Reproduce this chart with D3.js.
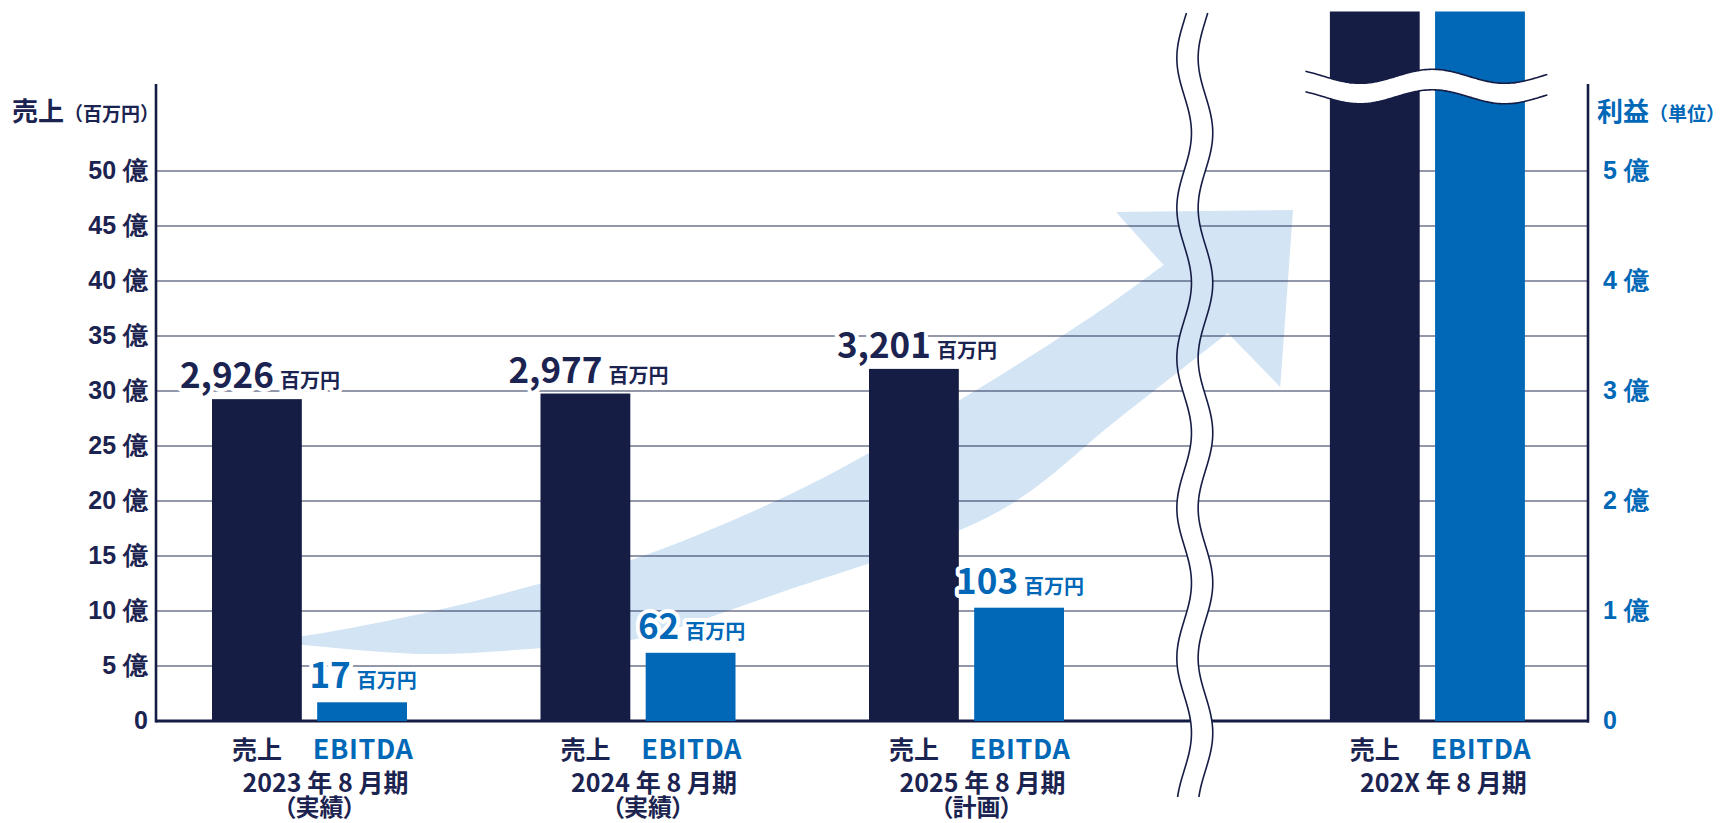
<!DOCTYPE html>
<html lang="ja">
<head>
<meta charset="utf-8">
<script src="https://cdn.jsdelivr.net/npm/d3@7"></script>
<style>
  html, body { margin: 0; padding: 0; background: #fff; }
  svg { display: block; font-family: "Noto Sans CJK JP", "Noto Sans", sans-serif; }
  .val { paint-order: stroke; stroke: #fff; stroke-width: 8px; stroke-linejoin: round; }
</style>
</head>
<body>
<svg id="chart" width="1725" height="823"></svg>
<script>
// Fiscal periods (August year-end)
const periods = ["2023 年 8 月期", "2024 年 8 月期", "2025 年 8 月期", "202X 年 8 月期"];
const periodNotes = ["（実績）", "（実績）", "（計画）", ""];
// Horizontal slot of each period; the 202X target sits beyond the axis break
const periodSlots = [0, 1, 2, 3.403];
const breakSlot = 2.695;

// Sales and EBITDA, millions of yen (202X target runs off the top of the scale)
const sales = [2926, 2977, 3201, 6450];
const ebitda = [17, 62, 103, 645];
const showValue = [true, true, true, false];

// Axis ticks, millions of yen
const salesTicks = [0, 500, 1000, 1500, 2000, 2500, 3000, 3500, 4000, 4500, 5000];
const profitTicks = [0, 100, 200, 300, 400, 500];

// Growth arrow outline in chart units (slot, millions of yen on the sales scale)
const arrowUpper = [[-0.18, 736], [-0.02, 773], [0.39, 1009], [0.71, 1255], [0.98, 1464],
                    [1.49, 2100], [1.98, 2918], [2.41, 3736], [2.60, 4145]];
const arrowHead  = [[2.455, 4627], [2.994, 4645], [2.955, 3036], [2.795, 3527]];
const arrowLower = [[2.795, 3527], [2.458, 2736], [2.10, 1909], [1.43, 1164], [0.98, 736],
                    [0.71, 664], [0.36, 609], [-0.02, 691], [-0.18, 736]];

const NAVY = "#151d45", TEXT = "#1b2350", BLUE = "#0068b7", ARROW = "#d3e4f4";

const svg = d3.select("#chart");
const plot = { left: 156, right: 1588, top: 84, bottom: 721 };

const ySales = d3.scaleLinear().domain([0, 5000]).range([plot.bottom, 171]);
const yProfit = d3.scaleLinear().domain([0, 500]).range([plot.bottom, 171]);
const xSlot = d3.scaleLinear().domain([0, 1]).range([309.5, 638]);

// pair of bars inside each period
function inner(i) {
  const c = xSlot(periodSlots[i]);
  return d3.scaleBand().domain(["sales", "ebitda"]).range([c - 97.5, c + 97.5])
    .paddingInner(0.146).paddingOuter(0);
}

// ---- vertical axis-break band
const bx = xSlot(breakSlot);
const bandHalf = 10.65, amp = 7.3, period = 150;
const waveY = d3.range(13, 799, 2);
const leftWave = waveY.map(y => [bx - bandHalf + amp * Math.cos(2 * Math.PI * (y - 283) / period), y]);
const rightWave = waveY.map(y => [bx + bandHalf + amp * Math.cos(2 * Math.PI * (y - 283) / period), y]);
const lineGen = d3.line().curve(d3.curveCatmullRom);

const defs = svg.append("defs");
const mask = defs.append("mask").attr("id", "breakMask").attr("maskUnits", "userSpaceOnUse")
  .attr("x", 0).attr("y", 0).attr("width", 1725).attr("height", 823);
mask.append("rect").attr("width", 1725).attr("height", 823).attr("fill", "#fff");
mask.append("path")
  .attr("d", lineGen(leftWave) + "L" + rightWave.slice().reverse().map(p => p.join(",")).join("L") + "Z")
  .attr("fill", "#000");

// ---- growth arrow
const ap = p => [xSlot(p[0]), ySales(p[1])];
const upperD = lineGen(arrowUpper.map(ap));
const lowerD = lineGen(arrowLower.map(ap));
const headD = arrowHead.map(ap).map(p => "L" + p.join(",")).join("");
svg.append("path")
  .attr("d", upperD + headD + "L" + lowerD.slice(1) + "Z")
  .attr("fill", ARROW);

// ---- gridlines and axis lines (cut by the break band)
const grid = svg.append("g").attr("mask", "url(#breakMask)");
grid.selectAll("line.grid").data(salesTicks.filter(d => d > 0)).join("line")
  .attr("x1", plot.left).attr("x2", plot.right)
  .attr("y1", d => ySales(d)).attr("y2", d => ySales(d))
  .attr("stroke", "#283057").attr("stroke-width", 1.1);

// ---- bars
periods.forEach((p, i) => {
  const b = inner(i);
  const g = svg.append("g");
  g.append("rect").attr("x", b("sales")).attr("width", b.bandwidth())
    .attr("y", ySales(sales[i])).attr("height", ySales(0) - ySales(sales[i]))
    .attr("fill", NAVY);
  g.append("rect").attr("x", b("ebitda")).attr("width", b.bandwidth())
    .attr("y", yProfit(ebitda[i])).attr("height", yProfit(0) - yProfit(ebitda[i]))
    .attr("fill", BLUE);
});

// baseline and side axes
grid.append("line").attr("x1", plot.left).attr("x2", plot.right + 1)
  .attr("y1", ySales(0)).attr("y2", ySales(0))
  .attr("stroke", NAVY).attr("stroke-width", 3);
svg.append("line").attr("x1", plot.left).attr("x2", plot.left)
  .attr("y1", plot.top).attr("y2", ySales(0) + 1.5)
  .attr("stroke", NAVY).attr("stroke-width", 2.6);
svg.append("line").attr("x1", plot.right).attr("x2", plot.right)
  .attr("y1", plot.top).attr("y2", ySales(0) + 1.5)
  .attr("stroke", NAVY).attr("stroke-width", 2.6);

// break wave strokes
[leftWave, rightWave].forEach(w => {
  svg.append("path").attr("d", lineGen(w)).attr("fill", "none")
    .attr("stroke", NAVY).attr("stroke-width", 1.6);
});

// ---- break across the 202X bars
(function () {
  const c = xSlot(periodSlots[3]);
  const xs = d3.range(c - 122, c + 122, 2);
  const top = xs.map(x => [x, 76.3 - 7 * Math.cos(2 * Math.PI * (x - c - 5) / 145)]);
  const bot = top.map(([x, y]) => [x, y + 20.5]);
  svg.append("path")
    .attr("d", lineGen(top) + "L" + bot.slice().reverse().map(p => p.join(",")).join("L") + "Z")
    .attr("fill", "#fff");
  [top, bot].forEach(w => svg.append("path").attr("d", lineGen(w)).attr("fill", "none")
    .attr("stroke", NAVY).attr("stroke-width", 1.6));
})();

// ---- value labels
const fmt = d3.format(",");
function valueLabel(x, y, v, color) {
  const t = svg.append("text").attr("class", "val")
    .attr("x", x).attr("y", y).attr("text-anchor", "middle").attr("fill", color);
  t.append("tspan").attr("font-size", 35).attr("font-weight", 700).text(fmt(v));
  t.append("tspan").attr("dx", 6).attr("font-size", 20).attr("font-weight", 700).text("百万円");
}
periods.forEach((p, i) => {
  if (!showValue[i]) return;
  const b = inner(i);
  valueLabel(b("sales") + b.bandwidth() / 2 + 3, ySales(sales[i]) - 11, sales[i], TEXT);
  valueLabel(b("ebitda") + b.bandwidth() / 2 + 1, yProfit(ebitda[i]) - 14, ebitda[i], BLUE);
});

// ---- tick labels
const okuFmt = d => d === 0 ? "0" : `${d / 100} 億`;
const leftAxis = svg.append("g").attr("transform", `translate(${plot.left},0)`)
  .call(d3.axisLeft(ySales).tickValues(salesTicks).tickFormat(okuFmt).tickSize(0).tickPadding(8));
const rightAxis = svg.append("g").attr("transform", `translate(${plot.right},0)`)
  .call(d3.axisRight(yProfit).tickValues(profitTicks).tickFormat(okuFmt).tickSize(0).tickPadding(15));
[leftAxis, rightAxis].forEach(a => {
  a.select(".domain").remove();
  a.selectAll("text").attr("font-family", null).attr("font-size", 25).attr("font-weight", 700)
    .attr("dy", "0.3em");
});
leftAxis.selectAll("text").attr("fill", TEXT);
rightAxis.selectAll("text").attr("fill", BLUE);

// axis titles
const lt = svg.append("text").attr("x", 12).attr("y", 121).attr("fill", TEXT).attr("font-weight", 700);
lt.append("tspan").attr("font-size", 26).text("売上");
lt.append("tspan").attr("font-size", 19).text("（百万円）");
const rt = svg.append("text").attr("x", 1597).attr("y", 121).attr("fill", BLUE).attr("font-weight", 700);
rt.append("tspan").attr("font-size", 26).text("利益");
rt.append("tspan").attr("font-size", 19).text("（単位）");

// ---- category labels under each period
periods.forEach((p, i) => {
  const b = inner(i);
  const c = xSlot(periodSlots[i]);
  const g = svg.append("g").attr("font-weight", 700).attr("text-anchor", "middle");
  g.append("text").attr("x", b("sales") + b.bandwidth() / 2).attr("y", 759)
    .attr("font-size", 25).attr("fill", TEXT).text("売上");
  g.append("text").attr("x", b("ebitda") + b.bandwidth() / 2 + 1).attr("y", 759)
    .attr("font-size", 27).attr("letter-spacing", 0.6).attr("fill", BLUE).text("EBITDA");
  g.append("text").attr("x", c + 16).attr("y", 792)
    .attr("font-size", 25).attr("fill", TEXT).text(p);
  if (periodNotes[i]) {
    g.append("text").attr("x", c + 10).attr("y", 816)
      .attr("font-size", 24).attr("fill", TEXT)
      .style("font-feature-settings", "'palt'").text(periodNotes[i]);
  }
});
</script>
</body>
</html>
